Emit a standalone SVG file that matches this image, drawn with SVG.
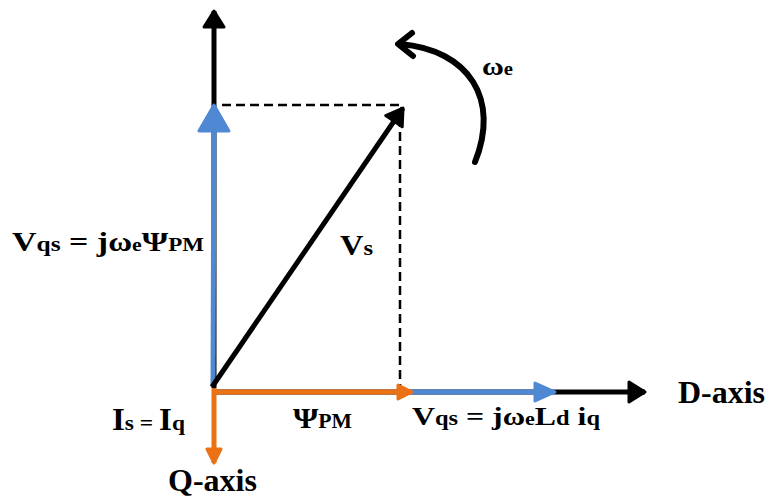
<svg xmlns="http://www.w3.org/2000/svg" width="772" height="502" viewBox="0 0 772 502">
<style>
.lbl{font-family:"Liberation Serif","Times New Roman",serif;font-weight:bold;fill:#000}
.ax{stroke:#000;stroke-width:5;fill:none}
.bl{stroke:#4f88d3;stroke-width:5;fill:none}
.or{stroke:#ec7014;stroke-width:5;fill:none}
.dash{stroke:#000;stroke-width:2.5;stroke-dasharray:9 5;fill:none}
</style>
<defs>
<marker id="hBlack" markerUnits="userSpaceOnUse" viewBox="0 0 20 24" refX="18" refY="12" markerWidth="20" markerHeight="24" orient="auto">
<path d="M2,2 L18,12 L2,22 Z" fill="#000" stroke="#000" stroke-width="3" stroke-linejoin="round"/>
</marker>
<marker id="hBlueBig" markerUnits="userSpaceOnUse" viewBox="0 0 30 34" refX="28" refY="17" markerWidth="30" markerHeight="34" orient="auto">
<path d="M2,2 L28,17 L2,32 Z" fill="#4f88d3" stroke="#4f88d3" stroke-width="3" stroke-linejoin="round"/>
</marker>
<marker id="hBlue" markerUnits="userSpaceOnUse" viewBox="0 0 24 22" refX="22" refY="11" markerWidth="24" markerHeight="22" orient="auto">
<path d="M2,2 L22,11 L2,20 Z" fill="#4f88d3" stroke="#4f88d3" stroke-width="3" stroke-linejoin="round"/>
</marker>
<marker id="hOrange" markerUnits="userSpaceOnUse" viewBox="0 0 18 18" refX="16" refY="9" markerWidth="18" markerHeight="18" orient="auto">
<path d="M2,2 L16,9 L2,16 Z" fill="#ec7014" stroke="#ec7014" stroke-width="3" stroke-linejoin="round"/>
</marker>
</defs>
<g id="connectors">
<line class="dash" x1="222" y1="105" x2="400" y2="105"/>
<line class="dash" x1="400" y1="118" x2="400" y2="392"/>
<line id="q-up-axis" class="ax" x1="214" y1="388" x2="214" y2="11" marker-end="url(#hBlack)"/>
<line id="d-axis-line" class="ax" x1="214" y1="392" x2="645" y2="392" marker-end="url(#hBlack)"/>
<line id="vqs-vertical" class="bl" x1="213" y1="386" x2="214" y2="105" marker-end="url(#hBlueBig)"/>
<line id="vqs-horizontal" class="bl" x1="410" y1="392" x2="555" y2="392" marker-end="url(#hBlue)"/>
<line id="psi-pm" class="or" x1="214" y1="392" x2="412" y2="392" marker-end="url(#hOrange)"/>
<line id="q-axis-down" class="or" x1="214" y1="388" x2="214" y2="463" marker-end="url(#hOrange)"/>
<line id="vs-vector" class="ax" x1="212" y1="387" x2="403" y2="108" stroke-width="5.5" marker-end="url(#hBlack)"/>
<path id="omega-arc" d="M475,162 C500,100 470,50 400,44" stroke="#000" stroke-width="6" fill="none" stroke-linecap="round"/>
<path d="M412,33 L398,44 L413,56" stroke="#000" stroke-width="6" fill="none" stroke-linecap="round" stroke-linejoin="round"/>
</g>
<g id="label-vqs-left"><text class="lbl" x="12" y="251" textLength="192" lengthAdjust="spacingAndGlyphs"><tspan font-size="28">V</tspan><tspan font-size="21">qs</tspan><tspan font-size="28"> = j</tspan><tspan font-size="27">ω</tspan><tspan font-size="18">e</tspan><tspan font-size="28">Ψ</tspan><tspan font-size="19">PM</tspan></text></g>
<g id="label-vs"><text class="lbl" x="340" y="255" textLength="33" lengthAdjust="spacingAndGlyphs"><tspan font-size="29">V</tspan><tspan font-size="22">s</tspan></text></g>
<g id="label-omega"><text class="lbl" x="482" y="75" textLength="31" lengthAdjust="spacingAndGlyphs"><tspan font-size="26">ω</tspan><tspan font-size="18">e</tspan></text></g>
<g id="label-d-axis"><text class="lbl" x="678" y="403" font-size="31" textLength="87" lengthAdjust="spacingAndGlyphs">D-axis</text></g>
<g id="label-q-axis"><text class="lbl" x="168" y="491" font-size="31" textLength="89" lengthAdjust="spacingAndGlyphs">Q-axis</text></g>
<g id="label-is"><text class="lbl" x="112" y="430" textLength="73" lengthAdjust="spacingAndGlyphs"><tspan font-size="31">I</tspan><tspan font-size="22">s</tspan><tspan font-size="22"> = </tspan><tspan font-size="31">I</tspan><tspan font-size="22">q</tspan></text></g>
<g id="label-psi"><text class="lbl" x="293" y="428" textLength="59" lengthAdjust="spacingAndGlyphs"><tspan font-size="30">Ψ</tspan><tspan font-size="20">PM</tspan></text></g>
<g id="label-vqs-bottom"><text class="lbl" x="412" y="425" textLength="188" lengthAdjust="spacingAndGlyphs"><tspan font-size="26">V</tspan><tspan font-size="20">qs</tspan><tspan font-size="26"> = j</tspan><tspan font-size="25">ω</tspan><tspan font-size="18">e</tspan><tspan font-size="26">L</tspan><tspan font-size="20">d</tspan><tspan font-size="26"> i</tspan><tspan font-size="20">q</tspan></text></g>
</svg>
